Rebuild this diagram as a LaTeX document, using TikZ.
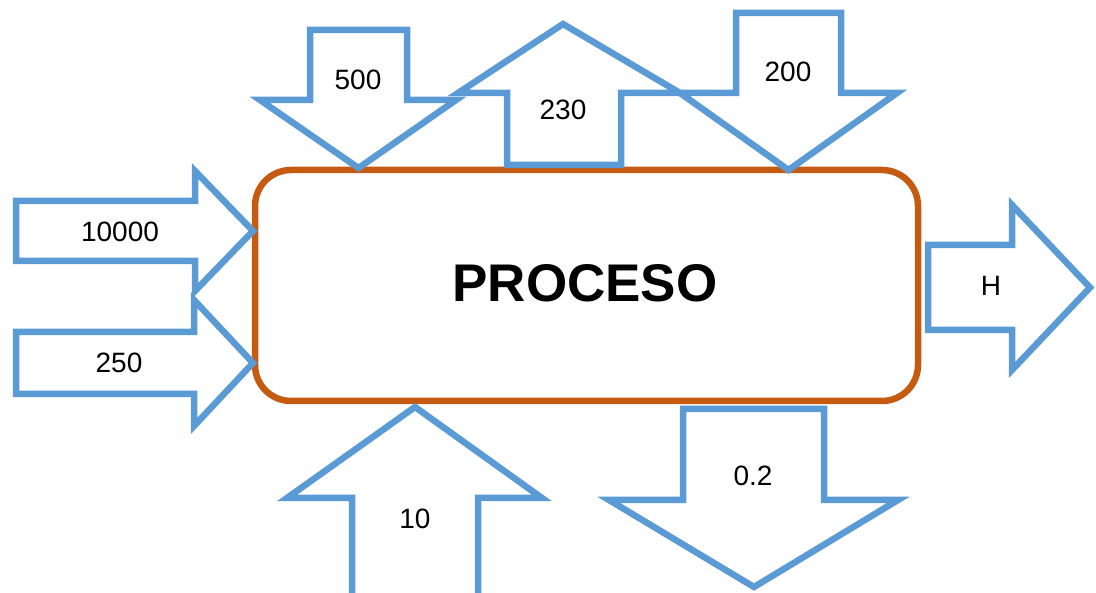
\documentclass[tikz,border=0pt]{standalone}
\usepackage{fontspec}
\setmainfont{Liberation Sans}
\definecolor{ablue}{HTML}{5B9BD5}
\definecolor{aorange}{HTML}{C55A11}
\begin{document}
\begin{tikzpicture}[x=1pt,y=-1pt,
  blockarrow/.style={draw=ablue,line width=6.5pt,miter limit=10,line join=miter},
  lbl/.style={font=\fontsize{28}{28}\selectfont,inner sep=0pt,text=black},
  procbox/.style={draw=aorange,line width=6.5pt,rounded corners=36pt,minimum width=663pt,minimum height=231pt,inner sep=0pt}]
\useasboundingbox (0,0) rectangle (1096,593);
\clip (0,0) rectangle (1096,593);
% central process box
\node[procbox] (proc) at (586.5,285.5) {};
\node[font=\fontsize{53}{53}\selectfont\bfseries,inner sep=0pt] (proctext) at (585,283) {PROCESO};
% arrow 500 (down)
\draw[blockarrow] (310,30) -- (407,30) -- (407,100) -- (456,100) -- (358.5,168) -- (260,100) -- (310,100) -- cycle;
% arrow 230 (up)
\draw[blockarrow] (507,165) -- (507,93) -- (458,93) -- (563,24) -- (680,93) -- (621,93) -- (621,165) -- cycle;
% arrow 200 (down)
\draw[blockarrow] (736,13) -- (841,13) -- (841,93) -- (897,93) -- (788.5,170) -- (680,93) -- (736,93) -- cycle;
% arrow 10000 (right)
\draw[blockarrow] (16,201) -- (195,201) -- (195,171) -- (253,231) -- (195,291) -- (195,261) -- (16,261) -- cycle;
% arrow 250 (right)
\draw[blockarrow] (16,332) -- (194,332) -- (194,300) -- (253,363) -- (194,426) -- (194,394) -- (16,394) -- cycle;
% arrow H (right, out)
\draw[blockarrow] (928,245) -- (1012,245) -- (1012,205) -- (1090,287.5) -- (1012,370) -- (1012,330) -- (928,330) -- cycle;
% arrow 10 (up)
\draw[blockarrow] (352,605) -- (352,498) -- (287,498) -- (415,407) -- (542,498) -- (478,498) -- (478,605) -- cycle;
% arrow 0.2 (down, out)
\draw[blockarrow] (683,409) -- (824,409) -- (824,500) -- (898,500) -- (754,587) -- (609,500) -- (683,500) -- cycle;
% labels
\node[lbl] (l500) at (358,80) {500};
\node[lbl] (l230) at (563,110) {230};
\node[lbl] (l200) at (788,72) {200};
\node[lbl] (l10000) at (120,232) {10000};
\node[lbl] (l250) at (119,363) {250};
\node[lbl] (lH) at (991,286) {H};
\node[lbl] (l10) at (415,519) {10};
\node[lbl] (l02) at (753,476) {0.2};
\end{tikzpicture}
\end{document}
